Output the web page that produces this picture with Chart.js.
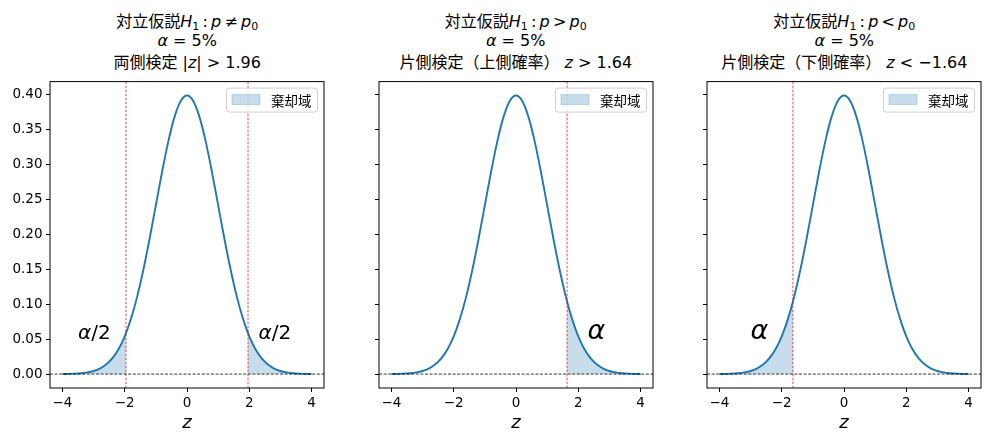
<!DOCTYPE html>
<html>
<head>
<meta charset="utf-8">
<script src="https://cdn.jsdelivr.net/npm/chart.js@4.4.1/dist/chart.umd.min.js"></script>
<style>
  html, body { margin: 0; padding: 0; background: #ffffff; }
  body { width: 990px; height: 441px; position: relative; overflow: hidden;
         font-family: "DejaVu Sans", "Noto Sans CJK JP", sans-serif; }
  .panel { position: absolute; top: 70px; width: 327px; height: 371px; }
  .tline { position: absolute; width: 340px; text-align: center; font-size: 16px; line-height: 16px;
           color: #000; white-space: nowrap; font-family: "DejaVu Sans", "Noto Sans CJK JP", sans-serif; }
  .tline i { font-family: "DejaVu Sans"; font-style: italic; }
  .tline sub { font-size: 11px; vertical-align: -3px; line-height: 0; }
</style>
</head>
<body>
<div id="titles"></div>
<div class="panel" id="p0"><canvas id="c0"></canvas></div>
<div class="panel" id="p1"><canvas id="c1"></canvas></div>
<div class="panel" id="p2"><canvas id="c2"></canvas></div>
<script>
// ---------- data ----------
const zValues = [-4.0,-3.8,-3.6,-3.4,-3.2,-3.0,-2.8,-2.6,-2.4,-2.2,-2.0,-1.8,-1.6,-1.4,-1.2,-1.0,-0.8,-0.6,-0.4,-0.2,
                 0.0,0.2,0.4,0.6,0.8,1.0,1.2,1.4,1.6,1.8,2.0,2.2,2.4,2.6,2.8,3.0,3.2,3.4,3.6,3.8,4.0];
const densityValues = [0.0001,0.0003,0.0006,0.0012,0.0024,0.0044,0.0079,0.0136,0.0224,0.0355,0.0540,0.0790,0.1109,0.1497,0.1942,0.2420,0.2897,0.3332,0.3683,0.3910,
                 0.3989,0.3910,0.3683,0.3332,0.2897,0.2420,0.1942,0.1497,0.1109,0.0790,0.0540,0.0355,0.0224,0.0136,0.0079,0.0044,0.0024,0.0012,0.0006,0.0003,0.0001];
const criticalZ = [1.96, 1.64, -1.64];
const criticalDensity = [0.0584, 0.1040, 0.1040];
const xTickValues = [-4, -2, 0, 2, 4];
const yTickValues = [0.00, 0.05, 0.10, 0.15, 0.20, 0.25, 0.30, 0.35, 0.40];
const legendLabel = '棄却域';
const titleLine1 = [
  ['対立仮説', '<i>H</i><sub>1</sub>', '&thinsp;:&thinsp;<i>p</i>&thinsp;≠&thinsp;<i>p</i><sub>0</sub>'],
  ['対立仮説', '<i>H</i><sub>1</sub>', '&thinsp;:&thinsp;<i>p</i>&thinsp;&gt;&thinsp;<i>p</i><sub>0</sub>'],
  ['対立仮説', '<i>H</i><sub>1</sub>', '&thinsp;:&thinsp;<i>p</i>&thinsp;&lt;&thinsp;<i>p</i><sub>0</sub>']
];
const titleLine2 = '<i>α</i> = 5%';
const titleLine3 = [
  '両側検定 |<i>z</i>| &gt; 1.96',
  '片側検定（上側確率） <i>z</i> &gt; 1.64',
  '片側検定（下側確率） <i>z</i> &lt; −1.64'
];
const annotationTexts = [['α', '/2'], ['α', ''], ['α', '']];

// ---------- layout / style (not data) ----------
const plotCenters = [187.2, 515.75, 844.3];
const panelLefts = [0.2, 328.75, 657.3];
const blue = '#1f77b4';
const fillColor = 'rgba(31,119,180,0.25)';

// titles
const titles = document.getElementById('titles');
const baselines = [27, 46.7, 68];
plotCenters.forEach((cx, i) => {
  const lines = [titleLine1[i].join(''), titleLine2, titleLine3[i]];
  lines.forEach((html, k) => {
    const d = document.createElement('div');
    d.className = 'tline';
    d.style.left = (cx - 170) + 'px';
    d.style.top = (baselines[k] - 13.5) + 'px';
    d.innerHTML = html;
    titles.appendChild(d);
  });
});

function pts(zs, ds) { return zs.map((z, i) => ({ x: z, y: ds[i] })); }
const curve = pts(zValues, densityValues);

function tailLower(c, d) { // z <= c
  const zs = [], ds = [];
  zValues.forEach((z, i) => { if (z <= c + 1e-9) { zs.push(z); ds.push(densityValues[i]); } });
  zs.push(c); ds.push(d);
  return pts(zs, ds);
}
function tailUpper(c, d) { // z >= c
  const zs = [c], ds = [d];
  zValues.forEach((z, i) => { if (z >= c - 1e-9) { zs.push(z); ds.push(densityValues[i]); } });
  return pts(zs, ds);
}

const panels = [
  { tails: [tailLower(-criticalZ[0], criticalDensity[0]), tailUpper(criticalZ[0], criticalDensity[0])],
    vlines: [-criticalZ[0], criticalZ[0]],
    ann: [{ x: -3.5, y: 0.05, size: 20, t: annotationTexts[0] }, { x: 2.3, y: 0.05, size: 20, t: annotationTexts[0] }] },
  { tails: [tailUpper(criticalZ[1], criticalDensity[1])],
    vlines: [criticalZ[1]],
    ann: [{ x: 2.3, y: 0.05, size: 27, t: annotationTexts[1] }] },
  { tails: [tailLower(criticalZ[2], criticalDensity[2])],
    vlines: [criticalZ[2]],
    ann: [{ x: -3.0, y: 0.05, size: 27, t: annotationTexts[2] }] }
];

const decorPlugin = {
  id: 'decor',
  afterDatasetsDraw(chart, args, opts) {
    const ctx = chart.ctx, a = chart.chartArea;
    const xs = chart.scales.x, ys = chart.scales.y;
    ctx.save();
    ctx.beginPath(); ctx.rect(a.left, a.top, a.right - a.left, a.bottom - a.top); ctx.clip();
    // vertical critical lines
    ctx.strokeStyle = '#e00000'; ctx.lineWidth = 0.7; ctx.setLineDash([2.5, 1.5]);
    opts.vlines.forEach(v => {
      const px = xs.getPixelForValue(v);
      ctx.beginPath(); ctx.moveTo(px, a.top); ctx.lineTo(px, a.bottom); ctx.stroke();
    });
    // horizontal zero line
    ctx.strokeStyle = '#000'; ctx.lineWidth = 0.8; ctx.setLineDash([3, 1.6]);
    const py = ys.getPixelForValue(0);
    ctx.beginPath(); ctx.moveTo(a.left, py); ctx.lineTo(a.right, py); ctx.stroke();
    ctx.setLineDash([]);
    // annotations
    ctx.fillStyle = '#000'; ctx.textBaseline = 'alphabetic'; ctx.textAlign = 'left';
    opts.ann.forEach(an => {
      let px = xs.getPixelForValue(an.x);
      const pyy = ys.getPixelForValue(an.y);
      ctx.font = 'italic ' + an.size + 'px "DejaVu Sans"';
      ctx.fillText(an.t[0], px, pyy);
      px += ctx.measureText(an.t[0]).width;
      ctx.font = an.size + 'px "DejaVu Sans"';
      if (an.t[1]) ctx.fillText(an.t[1], px, pyy);
    });
    ctx.restore();
  },
  afterDraw(chart) {
    const ctx = chart.ctx, a = chart.chartArea;
    ctx.save();
    // frame
    ctx.strokeStyle = '#000'; ctx.lineWidth = 1;
    ctx.strokeRect(a.left, a.top, a.right - a.left, a.bottom - a.top);
    // legend
    const bw = 91, bh = 24;
    const bx = a.right - 7 - bw, by = a.top + 6;
    ctx.fillStyle = 'rgba(255,255,255,0.8)';
    ctx.strokeStyle = '#d0d0d0'; ctx.lineWidth = 1;
    ctx.beginPath();
    if (ctx.roundRect) ctx.roundRect(bx + 0.5, by + 0.5, bw, bh, 3); else ctx.rect(bx + 0.5, by + 0.5, bw, bh);
    ctx.fill(); ctx.stroke();
    ctx.fillStyle = fillColor;
    ctx.fillRect(bx + 6, by + 7, 28, 10);
    ctx.strokeStyle = fillColor; ctx.strokeRect(bx + 6, by + 7, 28, 10);
    ctx.fillStyle = '#000';
    ctx.font = '13.5px "Noto Sans CJK JP", "DejaVu Sans"';
    ctx.textBaseline = 'middle'; ctx.textAlign = 'left';
    ctx.fillText(legendLabel, bx + 45, by + bh / 2 + 1);
    ctx.restore();
  }
};

const minus = v => (v < 0 ? '\u2212' + Math.abs(v) : String(v));

panels.forEach((p, i) => {
  document.getElementById('p' + i).style.left = panelLefts[i] + 'px';
  const datasets = [
    { data: curve, borderColor: blue, borderWidth: 1.9, pointRadius: 0, fill: false,
      cubicInterpolationMode: 'monotone' }
  ];
  p.tails.forEach(t => datasets.push({
    data: t, borderWidth: 0, borderColor: 'rgba(0,0,0,0)', backgroundColor: fillColor,
    pointRadius: 0, fill: 'origin', cubicInterpolationMode: 'monotone'
  }));
  new Chart(document.getElementById('c' + i), {
    type: 'line',
    data: { datasets },
    plugins: [decorPlugin],
    options: {
      responsive: true, maintainAspectRatio: false, animation: false,
      devicePixelRatio: 1,
      layout: { padding: { top: 10.8, right: 3, bottom: 0, left: 0 } },
      plugins: { legend: { display: false }, tooltip: { enabled: false },
                 decor: { vlines: p.vlines, ann: p.ann } },
      scales: {
        x: {
          type: 'linear', min: -4.4, max: 4.4,
          afterBuildTicks: s => { s.ticks = xTickValues.map(v => ({ value: v })); },
          afterFit: s => { s.height = 53; },
          grid: { drawOnChartArea: false, drawTicks: true, tickLength: 4, color: '#000', tickColor: '#000', lineWidth: 1 },
          border: { display: false },
          ticks: { color: '#000', padding: 3, maxRotation: 0, autoSkip: false,
                   font: { family: 'DejaVu Sans', size: 13.5 }, callback: v => minus(v) },
          title: { display: true, text: 'z', color: '#000',
                   font: { family: 'DejaVu Sans', style: 'italic', size: 18 }, padding: { top: 0, bottom: 7 } }
        },
        y: {
          type: 'linear', min: -0.01995, max: 0.41885,
          afterBuildTicks: s => { s.ticks = yTickValues.map(v => ({ value: v })); },
          afterFit: s => { s.width = 50; },
          grid: { drawOnChartArea: false, drawTicks: true, tickLength: 4, color: '#000', tickColor: '#000', lineWidth: 1 },
          border: { display: false },
          ticks: { color: '#000', padding: 3.5, autoSkip: false,
                   font: { family: 'DejaVu Sans', size: 13.5 },
                   callback: v => (i === 0 ? Number(v).toFixed(2) : '') }
        }
      }
    }
  });
});
</script>
</body>
</html>
